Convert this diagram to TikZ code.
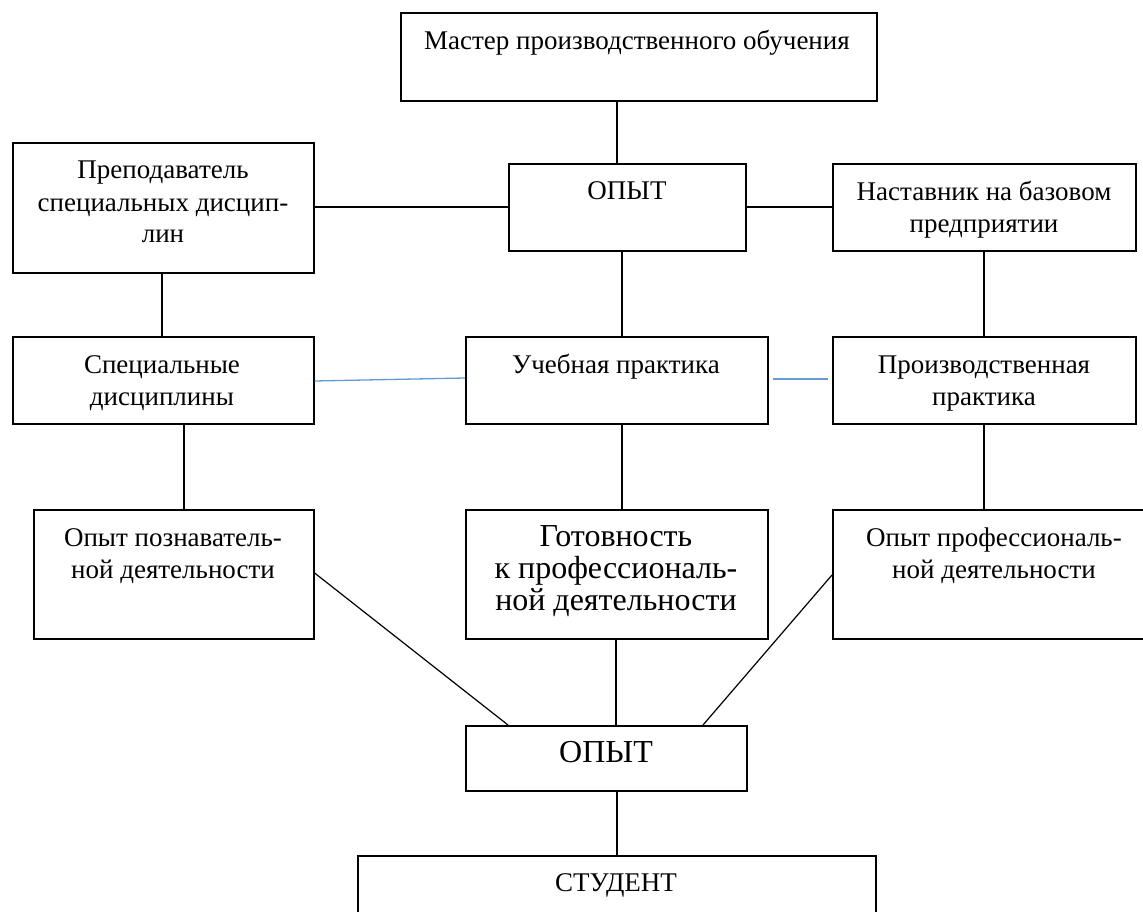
\documentclass[tikz,border=0pt]{standalone}
\usepackage{fontspec}
\setmainfont{Liberation Serif}
\definecolor{lineblue}{RGB}{100,155,212}
\begin{document}
\begin{tikzpicture}[x=1pt,y=-1pt,
  box/.style={draw=black, line width=1.6pt, rectangle, inner sep=0pt, anchor=north west},
  txt/.style={anchor=base, align=center, inner sep=0pt, font=\fontsize{27}{32}\selectfont},
  bigtxt/.style={anchor=base, align=center, inner sep=0pt, font=\fontsize{32}{32}\selectfont},
  conn/.style={draw=black, line width=1.2pt},
  bconn/.style={draw=lineblue, line width=1.3pt}]
\clip (0,0) rectangle (1143,912);
% boxes
\node[box, minimum width=476pt, minimum height=88pt] (master) at (400,12) {};
\node[box, minimum width=301pt, minimum height=130pt] (prep) at (12,142) {};
\node[box, minimum width=237pt, minimum height=87pt] (opyt1) at (508,163) {};
\node[box, minimum width=303pt, minimum height=87pt] (nast) at (832,163) {};
\node[box, minimum width=301pt, minimum height=87pt] (spec) at (12,336) {};
\node[box, minimum width=302pt, minimum height=87pt] (ucheb) at (465,336) {};
\node[box, minimum width=303pt, minimum height=87pt] (proizv) at (832,336) {};
\node[box, minimum width=280pt, minimum height=129pt] (poznav) at (33,509) {};
\node[box, minimum width=302pt, minimum height=129pt] (gotov) at (465,509) {};
\node[box, minimum width=325pt, minimum height=129pt] (prof) at (832,509) {};
\node[box, minimum width=281pt, minimum height=65pt] (opyt2) at (465,725) {};
\node[box, minimum width=518pt, minimum height=90pt] (student) at (357,855) {};
% texts (base anchor = baseline of the last line)
\node[txt] (tmaster) at (637,50) {Мастер производственного обучения};
\node[txt] (tprep) at (163,243) {Преподаватель\\специальных дисцип-\\лин};
\node[txt] (topyt1) at (627,200) {ОПЫТ};
\node[txt] (tnast) at (984,233) {Наставник на базовом\\предприятии};
\node[txt] (tspec) at (162,405) {Специальные\\дисциплины};
\node[txt] (tucheb) at (616,373) {Учебная практика};
\node[txt] (tproizv) at (984,405) {Производственная\\практика};
\node[txt] (tpoznav) at (173,578) {Опыт познаватель-\\ной деятельности};
\node[bigtxt] (tgotov) at (616,610) {Готовность\\к профессиональ-\\ной деятельности};
\node[txt] (tprof) at (994,578) {Опыт профессиональ-\\ной деятельности};
\node[bigtxt] (topyt2) at (606,762) {ОПЫТ};
\node[txt] (tstudent) at (616,891) {СТУДЕНТ};
% connectors
\draw[conn] (master.south -| 617,0) -- (opyt1.north -| 617,0);
\draw[conn] (prep.east |- 0,207) -- (opyt1.west |- 0,207);
\draw[conn] (opyt1.east |- 0,207) -- (nast.west |- 0,207);
\draw[conn] (prep.south -| 162,0) -- (spec.north -| 162,0);
\draw[conn] (opyt1.south -| 622,0) -- (ucheb.north -| 622,0);
\draw[conn] (nast.south -| 984,0) -- (proizv.north -| 984,0);
\draw[bconn] (spec.east |- 0,381) -- (ucheb.west |- 0,378);
\coordinate (bl) at (773,379);
\coordinate (br) at (828,379);
\draw[bconn] (bl) -- (br);
\draw[conn] (spec.south -| 184,0) -- (poznav.north -| 184,0);
\draw[conn] (ucheb.south -| 622,0) -- (gotov.north -| 622,0);
\draw[conn] (proizv.south -| 984,0) -- (prof.north -| 984,0);
\draw[conn] (poznav.east |- 0,573) -- (opyt2.north -| 508,0);
\draw[conn] (prof.west |- 0,575) -- (opyt2.north -| 703,0);
\draw[conn] (gotov.south -| 616,0) -- (opyt2.north -| 616,0);
\draw[conn] (opyt2.south -| 617,0) -- (student.north -| 617,0);
\end{tikzpicture}
\end{document}
